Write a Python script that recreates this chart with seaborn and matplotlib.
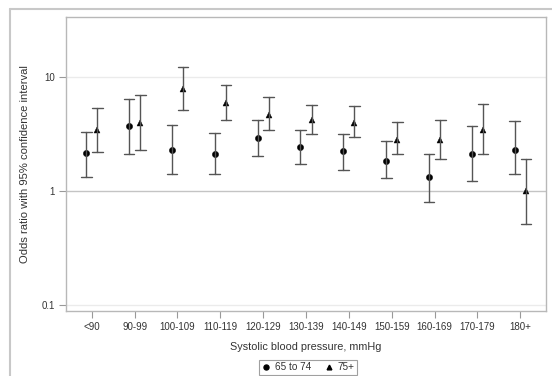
import matplotlib
matplotlib.use("Agg")
import matplotlib.pyplot as plt
from matplotlib.lines import Line2D
import numpy as np
import pandas as pd
import seaborn as sns

categories = ["<90", "90-99", "100-109", "110-119", "120-129", "130-139",
              "140-149", "150-159", "160-169", "170-179", "180+"]
groups = ["65 to 74", "75+"]
or_6574 = [2.15, 3.77, 2.32, 2.12, 2.92, 2.42, 2.23, 1.82, 1.32, 2.12, 2.32]
lo_6574 = [1.33, 2.12, 1.42, 1.42, 2.04, 1.74, 1.52, 1.31, 0.805, 1.22, 1.42]
hi_6574 = [3.30, 6.50, 3.82, 3.25, 4.25, 3.45, 3.16, 2.73, 2.12, 3.77, 4.17]
or_75 = [3.43, 3.97, 7.90, 5.90, 4.71, 4.20, 4.00, 2.82, 2.84, 3.43, 1.00]
lo_75 = [2.21, 2.32, 5.13, 4.25, 3.45, 3.16, 2.96, 2.12, 1.92, 2.12, 0.51]
hi_75 = [5.35, 7.05, 12.3, 8.50, 6.72, 5.75, 5.60, 4.05, 4.20, 5.80, 1.91]
y_ticks = [0.1, 1, 10]
y_tick_labels = ["0.1", "1", "10"]

rows = []
for g, est, lo, hi in [(groups[0], or_6574, lo_6574, hi_6574),
                       (groups[1], or_75, lo_75, hi_75)]:
    for c, e, l, h in zip(categories, est, lo, hi):
        for v in (l, e, h):
            rows.append({"sbp": c, "group": g, "value": v})
df = pd.DataFrame(rows)

sns.set_theme(style="white")
plt.rcParams["font.family"] = ["Liberation Sans", "DejaVu Sans"]
txt = "#333333"

fig = plt.figure(figsize=(5.52, 3.76), dpi=100)
ax = fig.add_axes([66/552, 1 - 311/376, 480/552, 294/376])

sns.pointplot(data=df, x="sbp", y="value", hue="group", order=categories,
              hue_order=groups, estimator="median",
              errorbar=lambda v: (v.min(), v.max()),
              markers=["o", "^"], linestyle="none", dodge=0.26,
              palette=["black", "black"], capsize=0.25,
              err_kws={"color": "#555555", "linewidth": 1.0},
              markersize=4.5, markeredgewidth=0.3, ax=ax, legend=False)

for ln in ax.lines:
    xd = np.asarray(ln.get_xdata(), dtype=float)
    if len(xd) == len(categories) and ln.get_linestyle() in ("None", "none", ""):
        if np.allclose(xd - np.arange(len(categories)), 0.13):
            ln.set_markersize(4.1)
            ln.set_markeredgewidth(0.3)

ax.set_yscale("log")
ax.set_ylim(0.088, 34)
ax.set_xlim(-0.6, 10.6)
ax.set_yticks(y_ticks)
ax.set_yticklabels(y_tick_labels)
ax.yaxis.set_minor_locator(matplotlib.ticker.NullLocator())
for yv in y_ticks:
    ax.axhline(yv, color="#c4c4c4" if yv == 1 else "#ebebeb", lw=1.0, zorder=0)

for s in ax.spines.values():
    s.set_color("#b8b8b8")
    s.set_linewidth(1.0)
ax.tick_params(axis="both", which="major", length=5, width=0.8, color="#999999",
               labelsize=7.0, labelcolor=txt, direction="out", bottom=True, left=True, pad=3)
ax.set_xlabel("Systolic blood pressure, mmHg", fontsize=7.8, color=txt, labelpad=7)
ax.set_ylabel("Odds ratio with 95% confidence interval", fontsize=8.1, color=txt, labelpad=8)
ax.grid(False)

handles = [Line2D([], [], marker="o", color="black", linestyle="none", markersize=3.6),
           Line2D([], [], marker="^", color="black", linestyle="none", markersize=3.4)]
leg = fig.legend(handles, groups, loc="center", bbox_to_anchor=(308/552, 1 - 367/376),
                 ncol=2, frameon=True, fontsize=7.2, handlelength=1.0, handletextpad=0.4,
                 columnspacing=1.2, borderpad=0.25, fancybox=False)
leg.get_frame().set_edgecolor("#888888")
leg.get_frame().set_linewidth(0.8)
for t in leg.get_texts():
    t.set_color(txt)

fig.add_artist(Line2D([10/552, 10/552], [0, 1 - 8.5/376], transform=fig.transFigure,
                      color="#c8c8c8", lw=1.5))
fig.add_artist(Line2D([10/552, 1], [1 - 8.5/376, 1 - 8.5/376], transform=fig.transFigure,
                      color="#c8c8c8", lw=1.5))

fig.savefig("out.png", dpi=100)
